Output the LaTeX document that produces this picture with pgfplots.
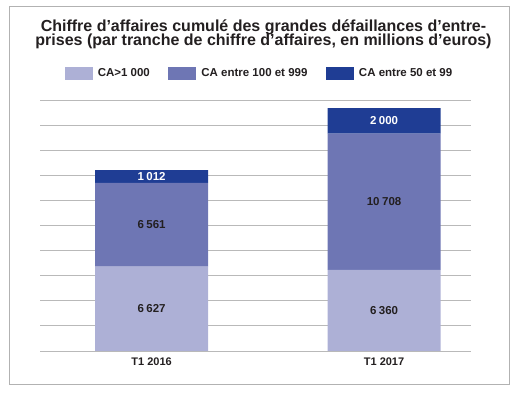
\documentclass[border=0pt]{standalone}
\usepackage{pgfplots}
\pgfplotsset{compat=1.18}
\usepackage{fontspec}
\setmainfont{Liberation Sans}
\definecolor{cLight}{RGB}{173,176,214}
\definecolor{cMid}{RGB}{110,118,180}
\definecolor{cDark}{RGB}{31,61,148}
\definecolor{txt}{RGB}{35,31,32}
\definecolor{gridc}{RGB}{185,185,185}
\definecolor{framec}{RGB}{178,178,178}
\begin{document}
\begin{tikzpicture}
\useasboundingbox (0,0) rectangle (520bp,395bp);
\draw[framec, line width=1bp] (9bp,10bp) rectangle (509bp,388bp);
\node[anchor=base, font=\fontsize{16bp}{16bp}\selectfont\bfseries, text=txt, inner sep=0pt] at (263.5bp,363.5bp) {Chiffre d’affaires cumulé des grandes défaillances d’entre-};
\node[anchor=base, font=\fontsize{16bp}{16bp}\selectfont\bfseries, text=txt, inner sep=0pt] at (263.5bp,349bp) {prises (par tranche de chiffre d’affaires, en millions d’euros)};
\begin{axis}[
  at={(40bp,44bp)}, anchor=south west,
  scale only axis, width=431bp, height=251bp,
  ybar stacked, bar width=113bp,
  xmin=-0.48, xmax=1.374, ymin=0, ymax=19700,
  enlargelimits=false,
  scaled y ticks=false,
  xtick={0,1}, xticklabels={T1 2016, T1 2017},
  ytick={0,1970,3940,5910,7880,9850,11820,13790,15760,17730,19700}, yticklabels={},
  ymajorgrids, grid style={gridc, line width=0.8bp},
  major tick length=0pt,
  axis line style={draw=none},
  xticklabel style={font=\fontsize{11bp}{13bp}\selectfont\bfseries, text=txt, anchor=base, yshift=-14bp},
  legend columns=3,
  legend image code/.code={\fill[#1] (0bp,-6.5bp) rectangle (28bp,6.5bp);},
  legend style={at={(rel axis cs:0.507,1.1056)}, anchor=center, draw=none, fill=none,
    font=\fontsize{11.5bp}{13bp}\selectfont\bfseries, text=txt,
    /tikz/every odd column/.append style={column sep=5bp},
    /tikz/every even column/.append style={column sep=18.5bp},
    nodes={inner sep=0pt}},
  visualization depends on=rawy \as \rawy,
  nodes near coords={\pgfmathprintnumber[assume math mode=true, 1000 sep={\kern0.22em}]{\rawy}},
  every node near coord/.append style={anchor=center, font=\fontsize{11.5bp}{13bp}\selectfont\bfseries, text=txt},
]
\addplot[fill=cLight, draw=none] coordinates {(0,6627) (1,6360)};
\addplot[fill=cMid, draw=none] coordinates {(0,6561) (1,10708)};
\addplot[fill=cDark, draw=none, every node near coord/.append style={text=white}] coordinates {(0,1012) (1,2000)};
\legend{CA>1 000, CA entre 100 et 999, CA entre 50 et 99}
\end{axis}
\end{tikzpicture}
\end{document}
